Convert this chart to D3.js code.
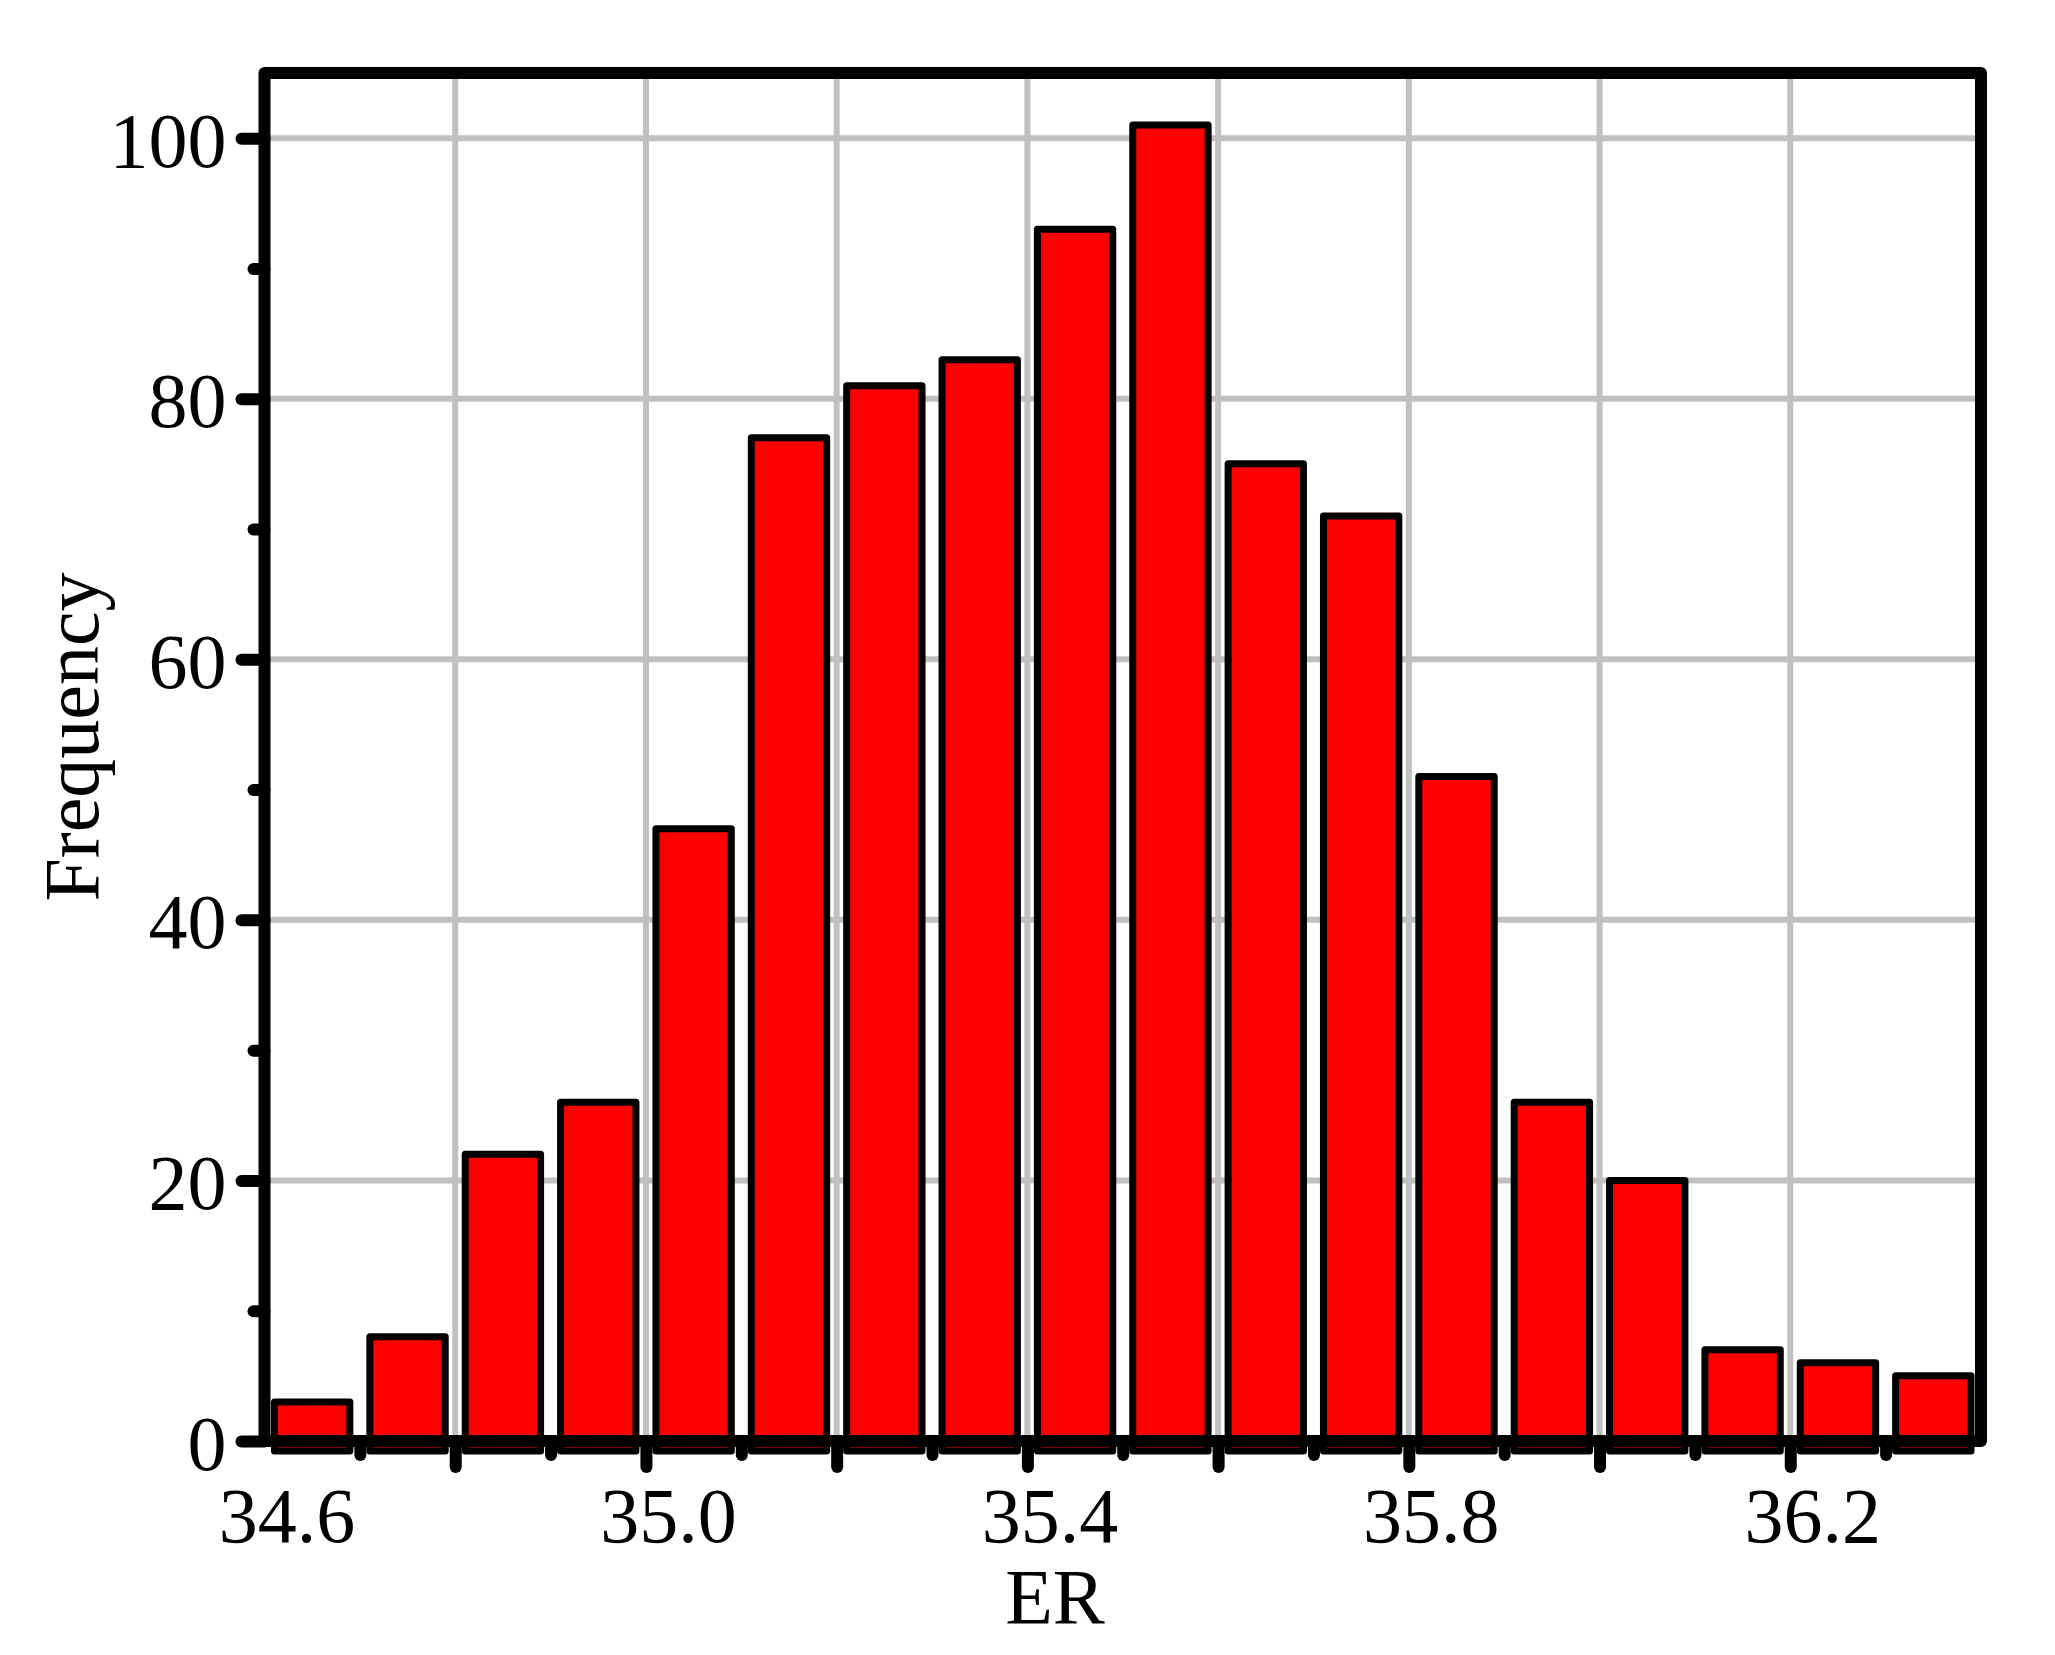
<!DOCTYPE html>
<html lang="en">
<head>
  <meta charset="UTF-8">
  <title>ER histogram</title>
  <script src="https://d3js.org/d3.v7.min.js"></script>
  <style>
    body { margin: 0; background: #fff; }
    svg { display: block; }
    text { font-family: "Liberation Serif", "Times New Roman", serif; fill: #000; }
  </style>
</head>
<body>
  <svg id="chart"></svg>
  <script>
    // Histogram bins (ER) and counts
    const binEdges = [34.6, 34.7, 34.8, 34.9, 35.0, 35.1, 35.2, 35.3, 35.4, 35.5,
                      35.6, 35.7, 35.8, 35.9, 36.0, 36.1, 36.2, 36.3, 36.4];
    const frequencies = [3, 8, 22, 26, 47, 77, 81, 83, 93, 101, 75, 71, 51, 26, 20, 7, 6, 5];

    // Axis ticks
    const xGridTicks = [34.8, 35.0, 35.2, 35.4, 35.6, 35.8, 36.0, 36.2];
    const xMajorTicks = [34.8, 35.0, 35.2, 35.4, 35.6, 35.8, 36.0, 36.2];
    const xMinorTicks = [34.7, 34.9, 35.1, 35.3, 35.5, 35.7, 35.9, 36.1, 36.3];
    const xLabelTicks = [34.6, 35.0, 35.4, 35.8, 36.2];
    const yMajorTicks = [0, 20, 40, 60, 80, 100];
    const yMinorTicks = [10, 30, 50, 70, 90];
    const yGridTicks = [20, 40, 60, 80, 100];

    const width = 2055, height = 1655;
    const plot = { left: 264.5, right: 1981, top: 73, bottom: 1441 };

    const svg = d3.select("#chart").attr("width", width).attr("height", height);

    const x = d3.scaleLinear().domain([34.6, 36.4]).range([plot.left, plot.right]);
    const y = d3.scaleLinear().domain([0, 105]).range([plot.bottom, plot.top]);

    const bins = frequencies.map((v, i) => ({ lo: binEdges[i], hi: binEdges[i + 1], value: v }));

    // grid
    const grid = svg.append("g").attr("stroke", "#c0c0c0").attr("stroke-width", 6);
    grid.selectAll(".vg").data(xGridTicks).enter().append("line")
      .attr("x1", d => x(d)).attr("x2", d => x(d))
      .attr("y1", plot.top).attr("y2", plot.bottom);
    grid.selectAll(".hg").data(yGridTicks).enter().append("line")
      .attr("x1", plot.left).attr("x2", plot.right)
      .attr("y1", d => y(d)).attr("y2", d => y(d));

    // bars
    const pad = 10;
    svg.append("g").selectAll("rect").data(bins).enter().append("rect")
      .attr("x", d => x(d.lo) + pad)
      .attr("width", d => x(d.hi) - x(d.lo) - 2 * pad)
      .attr("y", d => y(d.value))
      .attr("height", d => y(0) - y(d.value) + 10)
      .attr("fill", "#ff0000")
      .attr("stroke", "#000")
      .attr("stroke-width", 7)
      .attr("stroke-linejoin", "round");

    // tick marks through d3 axes
    function styleTicks(g) {
      g.select(".domain").remove();
      g.selectAll("line").attr("stroke", "#000").attr("stroke-width", 12).attr("stroke-linecap", "round");
    }
    svg.append("g").attr("transform", `translate(0,${plot.bottom})`)
      .call(d3.axisBottom(x).tickValues(xMajorTicks).tickSize(26).tickFormat(""))
      .call(styleTicks);
    svg.append("g").attr("transform", `translate(0,${plot.bottom})`)
      .call(d3.axisBottom(x).tickValues(xMinorTicks).tickSize(14).tickFormat(""))
      .call(styleTicks);
    svg.append("g").attr("transform", `translate(${plot.left},0)`)
      .call(d3.axisLeft(y).tickValues(yMajorTicks).tickSize(23).tickFormat(""))
      .call(styleTicks);
    svg.append("g").attr("transform", `translate(${plot.left},0)`)
      .call(d3.axisLeft(y).tickValues(yMinorTicks).tickSize(11).tickFormat(""))
      .call(styleTicks);

    // tick labels
    const xl = svg.append("g").attr("transform", `translate(0,${plot.bottom})`)
      .call(d3.axisBottom(x).tickValues(xLabelTicks).tickSize(0).tickPadding(46).tickFormat(d3.format(".1f")));
    xl.select(".domain").remove();
    xl.selectAll("text").attr("font-size", 78).attr("dx", 22)
      .style("font-family", "'Liberation Serif', 'Times New Roman', serif");

    const yl = svg.append("g").attr("transform", `translate(${plot.left},0)`)
      .call(d3.axisLeft(y).tickValues(yMajorTicks).tickSize(0).tickPadding(38).tickFormat(d3.format("d")));
    yl.select(".domain").remove();
    yl.selectAll("text").attr("font-size", 78).attr("dy", "0.36em")
      .style("font-family", "'Liberation Serif', 'Times New Roman', serif");

    // frame
    svg.append("rect")
      .attr("x", plot.left).attr("y", plot.top)
      .attr("width", plot.right - plot.left).attr("height", plot.bottom - plot.top)
      .attr("fill", "none").attr("stroke", "#000").attr("stroke-width", 12)
      .attr("stroke-linejoin", "round");

    // axis titles
    svg.append("text")
      .attr("x", 1055).attr("y", 1623)
      .attr("text-anchor", "middle").attr("font-size", 78)
      .text("ER");
    svg.append("text")
      .attr("transform", "translate(98,737) rotate(-90)")
      .attr("text-anchor", "middle").attr("font-size", 78)
      .text("Frequency");
  </script>
</body>
</html>
